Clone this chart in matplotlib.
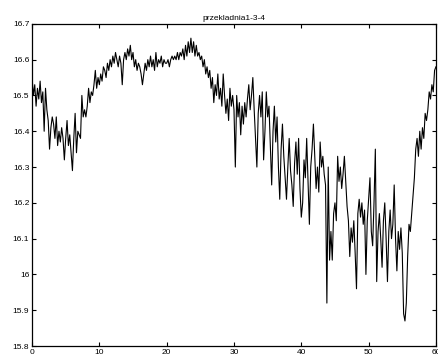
import numpy as np
import matplotlib
matplotlib.use("Agg")
import matplotlib.pyplot as plt

plt.rcParams['font.family'] = ['Liberation Sans', 'DejaVu Sans']

# sample step 0.2 from 0 to 60
t = np.round(np.arange(0, 60.01, 0.2), 1)

# values, 10 per 2 units of x
v = [
    16.55, 16.50, 16.53, 16.47, 16.52, 16.49, 16.54, 16.48, 16.51, 16.40,  # 0
    16.52, 16.46, 16.43, 16.35, 16.41, 16.44, 16.42, 16.38, 16.44, 16.36,  # 2
    16.40, 16.37, 16.41, 16.38, 16.32, 16.38, 16.43, 16.36, 16.39, 16.34,  # 4
    16.29, 16.38, 16.45, 16.34, 16.40, 16.39, 16.38, 16.50, 16.44, 16.46,  # 6
    16.44, 16.47, 16.52, 16.48, 16.51, 16.50, 16.53, 16.57, 16.52, 16.55,  # 8
    16.53, 16.56, 16.54, 16.58, 16.57, 16.55, 16.59, 16.57, 16.60, 16.58,  # 10
    16.61, 16.59, 16.62, 16.60, 16.58, 16.61, 16.59, 16.53, 16.60, 16.62,  # 12
    16.60, 16.63, 16.61, 16.64, 16.60, 16.62, 16.58, 16.60, 16.57, 16.59,  # 14
    16.58, 16.56, 16.53, 16.56, 16.59, 16.57, 16.60, 16.58, 16.61, 16.58,  # 16
    16.60, 16.57, 16.62, 16.58, 16.60, 16.59, 16.61, 16.58, 16.60, 16.59,  # 18
    16.59, 16.60, 16.58, 16.60, 16.61, 16.60, 16.61, 16.60, 16.62, 16.60,  # 20
    16.62, 16.61, 16.63, 16.60, 16.64, 16.61, 16.65, 16.62, 16.66, 16.62,  # 22
    16.65, 16.61, 16.64, 16.61, 16.62, 16.60, 16.61, 16.58, 16.60, 16.56,  # 24
    16.58, 16.55, 16.57, 16.52, 16.55, 16.48, 16.53, 16.50, 16.56, 16.49,  # 26
    16.52, 16.47, 16.56, 16.50, 16.45, 16.49, 16.43, 16.52, 16.47, 16.50,  # 28
    16.46, 16.30, 16.50, 16.44, 16.48, 16.39, 16.47, 16.42, 16.48, 16.44,  # 30
    16.49, 16.53, 16.46, 16.50, 16.55, 16.46, 16.38, 16.30, 16.45, 16.50,  # 32
    16.44, 16.51, 16.32, 16.40, 16.51, 16.44, 16.47, 16.36, 16.25, 16.40,  # 34
    16.47, 16.37, 16.44, 16.30, 16.21, 16.35, 16.42, 16.33, 16.27, 16.21,  # 36
    16.30, 16.38, 16.29, 16.25, 16.19, 16.31, 16.37, 16.28, 16.38, 16.24,  # 38
    16.16, 16.20, 16.32, 16.27, 16.38, 16.26, 16.14, 16.30, 16.35, 16.42,  # 40
    16.33, 16.24, 16.30, 16.23, 16.37, 16.30, 16.33, 16.28, 16.25, 15.92,  # 42
    16.30, 16.04, 16.12, 16.04, 16.17, 16.20, 16.15, 16.33, 16.26, 16.30,  # 44
    16.24, 16.28, 16.33, 16.26, 16.19, 16.15, 16.05, 16.13, 16.09, 16.15,  # 46
    16.06, 15.96, 16.17, 16.21, 16.16, 16.20, 16.14, 16.18, 16.00, 16.15,  # 48
    16.21, 16.27, 16.12, 16.08, 16.20, 16.35, 15.98, 16.12, 16.17, 16.10,  # 50
    16.02, 16.15, 16.20, 16.10, 15.98, 16.12, 16.18, 16.10, 16.14, 16.25,  # 52
    16.10, 16.01, 16.12, 16.07, 16.13, 16.06, 15.89, 15.87, 15.92, 16.05,  # 54
    16.14, 16.12, 16.17, 16.22, 16.27, 16.35, 16.38, 16.33, 16.40, 16.35,  # 56
    16.41, 16.38, 16.45, 16.43, 16.46, 16.51, 16.49, 16.53, 16.51, 16.57,  # 58
    16.58,
]

y_ticks = [15.8, 15.9, 16.0, 16.1, 16.2, 16.3, 16.4, 16.5, 16.6, 16.7]
y_labels = ['15.8', '15.9', '16', '16.1', '16.2', '16.3', '16.4', '16.5', '16.6', '16.7']
x_ticks = [0, 10, 20, 30, 40, 50, 60]

fig = plt.figure(figsize=(4.39, 3.56), dpi=100)
ax = fig.add_axes([0.073, 0.028, 0.920, 0.905])
ax.plot(t, v, color='black', linewidth=0.8)
ax.set_xlim(0, 60)
ax.set_ylim(15.8, 16.7)
ax.set_xticks(x_ticks)
ax.set_yticks(y_ticks)
ax.set_yticklabels(y_labels)
ax.tick_params(direction='in', length=3, width=0.8, labelsize=6, pad=2,
               top=True, right=True)
for s in ax.spines.values():
    s.set_linewidth(0.9)
ax.set_title('przekladnia1-3-4', fontsize=6, pad=3)

fig.savefig('out.png', dpi=100)
